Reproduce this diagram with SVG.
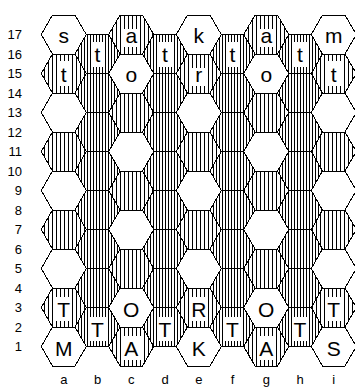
<svg xmlns="http://www.w3.org/2000/svg" width="355" height="387" viewBox="0 0 355 387">
<defs>
<pattern id="hl" width="4" height="4" patternUnits="userSpaceOnUse"><rect width="1" height="4" fill="#000"/></pattern>
<pattern id="hd" width="3" height="3" patternUnits="userSpaceOnUse"><rect width="1" height="3" fill="#000"/></pattern>
</defs>
<style>
path{stroke:#000;stroke-width:1;shape-rendering:crispEdges}
.w{fill:#fff}.l{fill:url(#hl)}.d{fill:url(#hd)}
rect.b{fill:#fff;shape-rendering:crispEdges}
text{font-family:"Liberation Sans",Arial,sans-serif;fill:#000}
.p{font-size:21px;text-anchor:middle}
.n{font-size:13px;text-anchor:end}
.f{font-size:13px;text-anchor:middle}
</style>
<rect width="355" height="387" fill="#fff"/>
<g id="col-a">
<g id="a17"><path class="w" d="M41.25 34.5l11.25-19.5h22.5l11.25 19.5-11.25 19.5h-22.5z"/><text class="p" x="63.75" y="42.5">s</text></g>
<g id="a15"><path class="l" d="M41.25 73.5l11.25-19.5h22.5l11.25 19.5-11.25 19.5h-22.5z"/><rect class="b" x="57" y="61" width="14" height="25"/><text class="p" x="63.75" y="81.5">t</text></g>
<g id="a13"><path class="w" d="M41.25 112.5l11.25-19.5h22.5l11.25 19.5-11.25 19.5h-22.5z"/></g>
<g id="a11"><path class="l" d="M41.25 151.5l11.25-19.5h22.5l11.25 19.5-11.25 19.5h-22.5z"/></g>
<g id="a9"><path class="w" d="M41.25 190.5l11.25-19.5h22.5l11.25 19.5-11.25 19.5h-22.5z"/></g>
<g id="a7"><path class="l" d="M41.25 229.5l11.25-19.5h22.5l11.25 19.5-11.25 19.5h-22.5z"/></g>
<g id="a5"><path class="w" d="M41.25 268.5l11.25-19.5h22.5l11.25 19.5-11.25 19.5h-22.5z"/></g>
<g id="a3"><path class="l" d="M41.25 307.5l11.25-19.5h22.5l11.25 19.5-11.25 19.5h-22.5z"/><rect class="b" x="55" y="297" width="17" height="24"/><text class="p" x="63.75" y="317">T</text></g>
<g id="a1"><path class="w" d="M41.25 346.5l11.25-19.5h22.5l11.25 19.5-11.25 19.5h-22.5z"/><text class="p" x="63.75" y="356">M</text></g>
</g>
<g id="col-b">
<g id="b16"><path class="d" d="M75 54l11.25-19.5h22.5l11.25 19.5-11.25 19.5h-22.5z"/><rect class="b" x="91" y="42" width="14" height="25"/><text class="p" x="97.5" y="62">t</text></g>
<g id="b14"><path class="d" d="M75 93l11.25-19.5h22.5l11.25 19.5-11.25 19.5h-22.5z"/></g>
<g id="b12"><path class="d" d="M75 132l11.25-19.5h22.5l11.25 19.5-11.25 19.5h-22.5z"/></g>
<g id="b10"><path class="d" d="M75 171l11.25-19.5h22.5l11.25 19.5-11.25 19.5h-22.5z"/></g>
<g id="b8"><path class="d" d="M75 210l11.25-19.5h22.5l11.25 19.5-11.25 19.5h-22.5z"/></g>
<g id="b6"><path class="d" d="M75 249l11.25-19.5h22.5l11.25 19.5-11.25 19.5h-22.5z"/></g>
<g id="b4"><path class="d" d="M75 288l11.25-19.5h22.5l11.25 19.5-11.25 19.5h-22.5z"/></g>
<g id="b2"><path class="d" d="M75 327l11.25-19.5h22.5l11.25 19.5-11.25 19.5h-22.5z"/><rect class="b" x="89" y="317" width="17" height="24"/><text class="p" x="97.5" y="337">T</text></g>
</g>
<g id="col-c">
<g id="c17"><path class="l" d="M108.75 34.5l11.25-19.5h22.5l11.25 19.5-11.25 19.5h-22.5z"/><rect class="b" x="123" y="29" width="16" height="18"/><text class="p" x="131.25" y="42.5">a</text></g>
<g id="c15"><path class="w" d="M108.75 73.5l11.25-19.5h22.5l11.25 19.5-11.25 19.5h-22.5z"/><text class="p" x="131.25" y="81.5">o</text></g>
<g id="c13"><path class="l" d="M108.75 112.5l11.25-19.5h22.5l11.25 19.5-11.25 19.5h-22.5z"/></g>
<g id="c11"><path class="w" d="M108.75 151.5l11.25-19.5h22.5l11.25 19.5-11.25 19.5h-22.5z"/></g>
<g id="c9"><path class="l" d="M108.75 190.5l11.25-19.5h22.5l11.25 19.5-11.25 19.5h-22.5z"/></g>
<g id="c7"><path class="w" d="M108.75 229.5l11.25-19.5h22.5l11.25 19.5-11.25 19.5h-22.5z"/></g>
<g id="c5"><path class="l" d="M108.75 268.5l11.25-19.5h22.5l11.25 19.5-11.25 19.5h-22.5z"/></g>
<g id="c3"><path class="w" d="M108.75 307.5l11.25-19.5h22.5l11.25 19.5-11.25 19.5h-22.5z"/><text class="p" x="131.25" y="317">O</text></g>
<g id="c1"><path class="l" d="M108.75 346.5l11.25-19.5h22.5l11.25 19.5-11.25 19.5h-22.5z"/><rect class="b" x="122" y="336" width="19" height="24"/><text class="p" x="131.25" y="356">A</text></g>
</g>
<g id="col-d">
<g id="d16"><path class="d" d="M142.5 54l11.25-19.5h22.5l11.25 19.5-11.25 19.5h-22.5z"/><rect class="b" x="158" y="42" width="14" height="25"/><text class="p" x="165" y="62">t</text></g>
<g id="d14"><path class="d" d="M142.5 93l11.25-19.5h22.5l11.25 19.5-11.25 19.5h-22.5z"/></g>
<g id="d12"><path class="d" d="M142.5 132l11.25-19.5h22.5l11.25 19.5-11.25 19.5h-22.5z"/></g>
<g id="d10"><path class="d" d="M142.5 171l11.25-19.5h22.5l11.25 19.5-11.25 19.5h-22.5z"/></g>
<g id="d8"><path class="d" d="M142.5 210l11.25-19.5h22.5l11.25 19.5-11.25 19.5h-22.5z"/></g>
<g id="d6"><path class="d" d="M142.5 249l11.25-19.5h22.5l11.25 19.5-11.25 19.5h-22.5z"/></g>
<g id="d4"><path class="d" d="M142.5 288l11.25-19.5h22.5l11.25 19.5-11.25 19.5h-22.5z"/></g>
<g id="d2"><path class="d" d="M142.5 327l11.25-19.5h22.5l11.25 19.5-11.25 19.5h-22.5z"/><rect class="b" x="156.5" y="317" width="17" height="24"/><text class="p" x="165" y="337">T</text></g>
</g>
<g id="col-e">
<g id="e17"><path class="w" d="M176.25 34.5l11.25-19.5h22.5l11.25 19.5-11.25 19.5h-22.5z"/><text class="p" x="198.75" y="42.5">k</text></g>
<g id="e15"><path class="l" d="M176.25 73.5l11.25-19.5h22.5l11.25 19.5-11.25 19.5h-22.5z"/><rect class="b" x="192" y="68" width="14" height="18"/><text class="p" x="198.75" y="81.5">r</text></g>
<g id="e13"><path class="w" d="M176.25 112.5l11.25-19.5h22.5l11.25 19.5-11.25 19.5h-22.5z"/></g>
<g id="e11"><path class="l" d="M176.25 151.5l11.25-19.5h22.5l11.25 19.5-11.25 19.5h-22.5z"/></g>
<g id="e9"><path class="w" d="M176.25 190.5l11.25-19.5h22.5l11.25 19.5-11.25 19.5h-22.5z"/></g>
<g id="e7"><path class="l" d="M176.25 229.5l11.25-19.5h22.5l11.25 19.5-11.25 19.5h-22.5z"/></g>
<g id="e5"><path class="w" d="M176.25 268.5l11.25-19.5h22.5l11.25 19.5-11.25 19.5h-22.5z"/></g>
<g id="e3"><path class="l" d="M176.25 307.5l11.25-19.5h22.5l11.25 19.5-11.25 19.5h-22.5z"/><rect class="b" x="189" y="297" width="19" height="24"/><text class="p" x="198.75" y="317">R</text></g>
<g id="e1"><path class="w" d="M176.25 346.5l11.25-19.5h22.5l11.25 19.5-11.25 19.5h-22.5z"/><text class="p" x="198.75" y="356">K</text></g>
</g>
<g id="col-f">
<g id="f16"><path class="d" d="M210 54l11.25-19.5h22.5l11.25 19.5-11.25 19.5h-22.5z"/><rect class="b" x="226" y="42" width="14" height="25"/><text class="p" x="232.5" y="62">t</text></g>
<g id="f14"><path class="d" d="M210 93l11.25-19.5h22.5l11.25 19.5-11.25 19.5h-22.5z"/></g>
<g id="f12"><path class="d" d="M210 132l11.25-19.5h22.5l11.25 19.5-11.25 19.5h-22.5z"/></g>
<g id="f10"><path class="d" d="M210 171l11.25-19.5h22.5l11.25 19.5-11.25 19.5h-22.5z"/></g>
<g id="f8"><path class="d" d="M210 210l11.25-19.5h22.5l11.25 19.5-11.25 19.5h-22.5z"/></g>
<g id="f6"><path class="d" d="M210 249l11.25-19.5h22.5l11.25 19.5-11.25 19.5h-22.5z"/></g>
<g id="f4"><path class="d" d="M210 288l11.25-19.5h22.5l11.25 19.5-11.25 19.5h-22.5z"/></g>
<g id="f2"><path class="d" d="M210 327l11.25-19.5h22.5l11.25 19.5-11.25 19.5h-22.5z"/><rect class="b" x="224" y="317" width="17" height="24"/><text class="p" x="232.5" y="337">T</text></g>
</g>
<g id="col-g">
<g id="g17"><path class="l" d="M243.75 34.5l11.25-19.5h22.5l11.25 19.5-11.25 19.5h-22.5z"/><rect class="b" x="258" y="29" width="16" height="18"/><text class="p" x="266.25" y="42.5">a</text></g>
<g id="g15"><path class="w" d="M243.75 73.5l11.25-19.5h22.5l11.25 19.5-11.25 19.5h-22.5z"/><text class="p" x="266.25" y="81.5">o</text></g>
<g id="g13"><path class="l" d="M243.75 112.5l11.25-19.5h22.5l11.25 19.5-11.25 19.5h-22.5z"/></g>
<g id="g11"><path class="w" d="M243.75 151.5l11.25-19.5h22.5l11.25 19.5-11.25 19.5h-22.5z"/></g>
<g id="g9"><path class="l" d="M243.75 190.5l11.25-19.5h22.5l11.25 19.5-11.25 19.5h-22.5z"/></g>
<g id="g7"><path class="w" d="M243.75 229.5l11.25-19.5h22.5l11.25 19.5-11.25 19.5h-22.5z"/></g>
<g id="g5"><path class="l" d="M243.75 268.5l11.25-19.5h22.5l11.25 19.5-11.25 19.5h-22.5z"/></g>
<g id="g3"><path class="w" d="M243.75 307.5l11.25-19.5h22.5l11.25 19.5-11.25 19.5h-22.5z"/><text class="p" x="266.25" y="317">O</text></g>
<g id="g1"><path class="l" d="M243.75 346.5l11.25-19.5h22.5l11.25 19.5-11.25 19.5h-22.5z"/><rect class="b" x="257" y="336" width="19" height="24"/><text class="p" x="266.25" y="356">A</text></g>
</g>
<g id="col-h">
<g id="h16"><path class="d" d="M277.5 54l11.25-19.5h22.5l11.25 19.5-11.25 19.5h-22.5z"/><rect class="b" x="293" y="42" width="14" height="25"/><text class="p" x="300" y="62">t</text></g>
<g id="h14"><path class="d" d="M277.5 93l11.25-19.5h22.5l11.25 19.5-11.25 19.5h-22.5z"/></g>
<g id="h12"><path class="d" d="M277.5 132l11.25-19.5h22.5l11.25 19.5-11.25 19.5h-22.5z"/></g>
<g id="h10"><path class="d" d="M277.5 171l11.25-19.5h22.5l11.25 19.5-11.25 19.5h-22.5z"/></g>
<g id="h8"><path class="d" d="M277.5 210l11.25-19.5h22.5l11.25 19.5-11.25 19.5h-22.5z"/></g>
<g id="h6"><path class="d" d="M277.5 249l11.25-19.5h22.5l11.25 19.5-11.25 19.5h-22.5z"/></g>
<g id="h4"><path class="d" d="M277.5 288l11.25-19.5h22.5l11.25 19.5-11.25 19.5h-22.5z"/></g>
<g id="h2"><path class="d" d="M277.5 327l11.25-19.5h22.5l11.25 19.5-11.25 19.5h-22.5z"/><rect class="b" x="291.5" y="317" width="17" height="24"/><text class="p" x="300" y="337">T</text></g>
</g>
<g id="col-i">
<g id="i17"><path class="w" d="M311.25 34.5l11.25-19.5h22.5l11.25 19.5-11.25 19.5h-22.5z"/><text class="p" x="333.75" y="42.5">m</text></g>
<g id="i15"><path class="l" d="M311.25 73.5l11.25-19.5h22.5l11.25 19.5-11.25 19.5h-22.5z"/><rect class="b" x="327" y="61" width="14" height="25"/><text class="p" x="333.75" y="81.5">t</text></g>
<g id="i13"><path class="w" d="M311.25 112.5l11.25-19.5h22.5l11.25 19.5-11.25 19.5h-22.5z"/></g>
<g id="i11"><path class="l" d="M311.25 151.5l11.25-19.5h22.5l11.25 19.5-11.25 19.5h-22.5z"/></g>
<g id="i9"><path class="w" d="M311.25 190.5l11.25-19.5h22.5l11.25 19.5-11.25 19.5h-22.5z"/></g>
<g id="i7"><path class="l" d="M311.25 229.5l11.25-19.5h22.5l11.25 19.5-11.25 19.5h-22.5z"/></g>
<g id="i5"><path class="w" d="M311.25 268.5l11.25-19.5h22.5l11.25 19.5-11.25 19.5h-22.5z"/></g>
<g id="i3"><path class="l" d="M311.25 307.5l11.25-19.5h22.5l11.25 19.5-11.25 19.5h-22.5z"/><rect class="b" x="325" y="297" width="17" height="24"/><text class="p" x="333.75" y="317">T</text></g>
<g id="i1"><path class="w" d="M311.25 346.5l11.25-19.5h22.5l11.25 19.5-11.25 19.5h-22.5z"/><text class="p" x="333.75" y="356">S</text></g>
</g>
<g id="connectors"/>
<g id="rank-labels">
<text class="n" x="22" y="39">17</text>
<text class="n" x="22" y="58.5">16</text>
<text class="n" x="22" y="78">15</text>
<text class="n" x="22" y="97.5">14</text>
<text class="n" x="22" y="117">13</text>
<text class="n" x="22" y="136.5">12</text>
<text class="n" x="22" y="156">11</text>
<text class="n" x="22" y="175.5">10</text>
<text class="n" x="22" y="195">9</text>
<text class="n" x="22" y="214.5">8</text>
<text class="n" x="22" y="234">7</text>
<text class="n" x="22" y="253.5">6</text>
<text class="n" x="22" y="273">5</text>
<text class="n" x="22" y="292.5">4</text>
<text class="n" x="22" y="312">3</text>
<text class="n" x="22" y="331.5">2</text>
<text class="n" x="22" y="351">1</text>
</g>
<g id="file-labels">
<text class="f" x="63.75" y="383.5">a</text>
<text class="f" x="97.5" y="383.5">b</text>
<text class="f" x="131.25" y="383.5">c</text>
<text class="f" x="165" y="383.5">d</text>
<text class="f" x="198.75" y="383.5">e</text>
<text class="f" x="232.5" y="383.5">f</text>
<text class="f" x="266.25" y="383.5">g</text>
<text class="f" x="300" y="383.5">h</text>
<text class="f" x="333.75" y="383.5">i</text>
</g>
</svg>
